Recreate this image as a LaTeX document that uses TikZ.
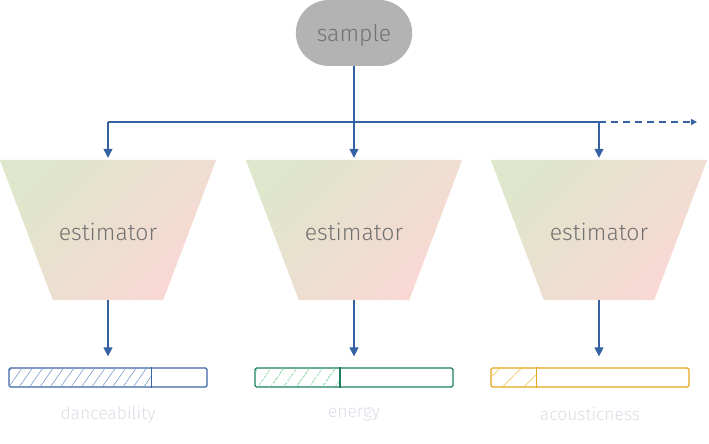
\documentclass[tikz,border=0pt]{standalone}
\usepackage{fontspec}
\setmainfont{Fira Sans Light}
\usetikzlibrary{shapes.misc,arrows.meta,patterns.meta,calc}
\definecolor{mygray}{HTML}{B3B3B3}
\definecolor{mytext}{HTML}{727272}
\definecolor{mytag}{HTML}{DCDCE6}
\definecolor{myblue}{HTML}{3562A3}
\definecolor{mygreentop}{HTML}{DEE6CB}
\definecolor{mypinkbottom}{HTML}{FAD8D4}
\definecolor{mybar1}{HTML}{3A64A5}
\definecolor{myhatch1}{HTML}{7E9BCB}
\definecolor{mybar2}{HTML}{1E7D5E}
\definecolor{myhatch2}{HTML}{4FC277}
\definecolor{mybar3}{HTML}{E5A61A}
\definecolor{myhatch3}{HTML}{F2C13A}
\begin{document}
\begin{tikzpicture}[x=1pt,y=1pt]
	\tikzstyle{myline}=[draw=myblue,line width=1.2pt]
	\tikzstyle{myarrow}=[myline,-{Triangle[width=9pt,length=9pt]}]
	\tikzstyle{mysample}=[rounded rectangle,fill=mygray,minimum width=123pt,minimum height=66pt,text=mytext,font=\fontsize{23}{26}\selectfont]
	\tikzstyle{myest}=[rectangle,minimum width=216pt,minimum height=140pt,inner sep=0pt,text=mytext,font=\fontsize{23}{26}\selectfont]
	\tikzstyle{myshade}=[top color=mygreentop,bottom color=mypinkbottom,shading angle=45]
	\tikzstyle{mybar}=[rectangle,rounded corners=1.5pt,minimum width=198pt,minimum height=19pt,inner sep=0pt,line width=1.2pt]
	\tikzstyle{mytagtext}=[text=mytag,font=\fontsize{17.5}{20}\selectfont]

	\useasboundingbox (0,0) rectangle (709,444);

	\node[mysample] (sample) at (354,411) {};
	\node[mysample,fill=none] at ([yshift=-2.5pt]sample.center) {sample};
	\coordinate (bus) at (354,322);
	\coordinate (busend) at (697,322);

	\foreach \i / \x in {1/108,2/354,3/599} {
		\node[myest] (est\i) at (\x,214) {};
		\shade[myshade] (est\i.north west) -- (est\i.north east) -- ([xshift=-53pt]est\i.south east) -- ([xshift=53pt]est\i.south west) -- cycle;
		\node[myest] at ([yshift=-2pt]est\i.center) {estimator};
	}

	\foreach \i / \x / \f / \a / \d / \t in {1/108/0.72/55/8.5/danceability,2/354/0.43/55/10.5/energy,3/590/0.23/45/15/acousticness} {
		\node[mybar,draw=mybar\i] (bar\i) at (\x,66.5) {};
		\fill[pattern={Lines[angle=\a,distance=\d pt,line width=0.6pt]},pattern color=myhatch\i] ([shift={(0.6,0.6)}]bar\i.south west) rectangle ($(bar\i.north west)!\f!(bar\i.north east)+(0,-0.6)$);
		\draw[draw=mybar\i,line width=1.2pt] ($(bar\i.north west)!\f!(bar\i.north east)$) -- ($(bar\i.south west)!\f!(bar\i.south east)$);
		\node[mytagtext] (tag\i) at (\x,29.5) {\t};
	}

	\draw[myline] (sample.south) -- (sample.south |- bus);
	\draw[myline] (bus -| est1.north) -- (bus -| est3.north);
	\draw[myline,dash pattern=on 7pt off 5pt,-{Triangle[width=6pt,length=6pt]}] (bus -| est3.north) -- (busend);

	\foreach \i in {1,2,3} {
		\draw[myarrow,shorten >=2pt] (bus -| est\i.north) -- (est\i.north);
		\draw[myarrow,shorten >=11pt] (est\i.south) -- (est\i.south |- bar\i.north);
	}
\end{tikzpicture}
\end{document}
